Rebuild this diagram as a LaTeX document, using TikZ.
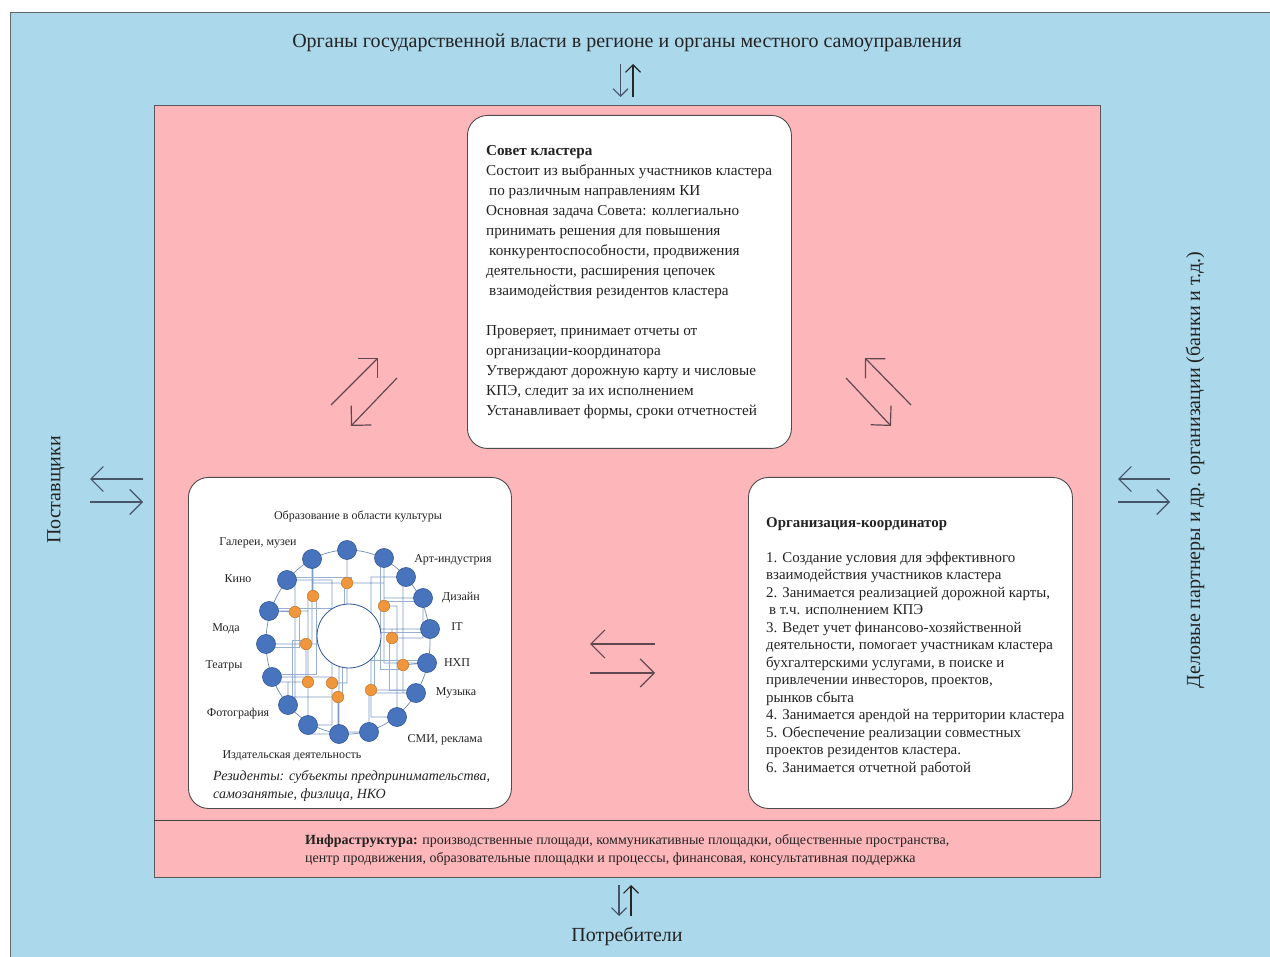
\documentclass[tikz,border=0pt]{standalone}
\usepackage{fontspec}
\setmainfont{Liberation Serif}
\usetikzlibrary{arrows.meta}
\definecolor{bgblue}{RGB}{172,216,236}
\definecolor{bgpink}{RGB}{253,183,187}
\definecolor{arrowc}{RGB}{95,72,80}
\definecolor{arrowb}{RGB}{70,86,104}
\definecolor{bluenode}{RGB}{72,116,190}
\definecolor{bluebord}{RGB}{47,85,151}
\definecolor{orangenode}{RGB}{240,150,60}
\definecolor{orangebord}{RGB}{200,120,40}
\definecolor{netline}{RGB}{125,155,196}
\definecolor{txt}{RGB}{35,35,35}
\tikzset{
  panel/.style={draw=black!70, fill=white, rounded corners=20pt, line width=0.9pt, inner sep=0pt},
  pinkarrow/.style={line width=1.2pt, draw=arrowc, -{Straight Barb[length=14pt,width=28pt,line width=1.2pt]}},
  sidearrow/.style={line width=1.1pt, draw=arrowb, -{Straight Barb[length=12.5pt,width=25pt,line width=1.1pt]}},
  vertarrow/.style={line width=1.1pt, draw=arrowb, -{Straight Barb[length=7.5pt,width=15pt,line width=1.1pt]}},
  bnode/.style={circle, fill=bluenode, draw=bluebord, line width=0.6pt, minimum size=19pt, inner sep=0pt},
  onode/.style={circle, fill=orangenode, draw=orangebord, line width=0.5pt, minimum size=11.5pt, inner sep=0pt},
  net/.style={draw=netline, line width=0.6pt},
  lab/.style={font=\fontsize{12}{14}\selectfont, text=txt, inner sep=0pt},
  body/.style={text=txt, inner sep=0pt, align=left, anchor=north west},
  big/.style={font=\fontsize{20}{24}\selectfont, text=txt, inner sep=0pt}
}
\begin{document}
\begin{tikzpicture}[x=1pt,y=-1pt]
\useasboundingbox (0,0) rectangle (1270,957);
\fill[white] (-10,-10) rectangle (1290,977);
% outer blue area
\coordinate (bgTL) at (10,12);
\coordinate (bgTR) at (1290,12);
\coordinate (bgBL) at (10,977);
\coordinate (bgBR) at (1290,977);
\fill[bgblue] (bgTL) rectangle (bgBR);
\draw[draw=black!60, line width=0.8pt] (bgBL) -- (bgTL) -- (bgTR);
% pink cluster area
\node[draw=black!65, fill=bgpink, line width=1pt, minimum width=946pt, minimum height=772pt, anchor=north west, inner sep=0pt] (cluster) at (154,105) {};
\coordinate (sepL) at (154,820);
\coordinate (sepR) at (1100,820);
\draw[draw=black!75, line width=1pt] (sepL) -- (sepR);

% outer labels
\node[big] (gov) at (627,43) {Органы государственной власти в регионе и органы местного самоуправления};
\node[big] (cons) at (627,936) {Потребители};
\node[big, rotate=90] (supp) at (56,490) {Поставщики};
\node[big, rotate=90] (partners) at (1195,470) {Деловые партнеры и др. организации (банки и т.д.)};

% panels
\node[panel, minimum width=324pt, minimum height=333pt, anchor=north west] (sovet) at (467,115) {};
\node[panel, minimum width=323pt, minimum height=331pt, anchor=north west] (resid) at (188,477) {};
\node[panel, minimum width=324pt, minimum height=331pt, anchor=north west] (coord) at (748,477) {};

% sovet text
\node[body, font=\fontsize{15.2}{20}\selectfont] (sovettext) at (486,145) {%
\textbf{Совет кластера}\\
Состоит из выбранных участников кластера\\
\hspace{3pt}по различным направлениям КИ\\
Основная задача Совета: коллегиально\\
принимать решения для повышения\\
\hspace{3pt}конкурентоспособности, продвижения\\
деятельности, расширения цепочек\\
\hspace{3pt}взаимодействия резидентов кластера\\[20pt]
Проверяет, принимает отчеты от\\
организации-координатора\\
Утверждают дорожную карту и числовые\\
КПЭ, следит за их исполнением\\
Устанавливает формы, сроки отчетностей};

% coordinator text
\node[body, font=\fontsize{14.9}{17.5}\selectfont] (coordtext) at (766,517) {%
\textbf{Организация-координатор}\\[17.5pt]
1. Создание условия для эффективного\\
взаимодействия участников кластера\\
2. Занимается реализацией дорожной карты,\\
\hspace{3pt}в т.ч. исполнением КПЭ\\
3. Ведет учет финансово-хозяйственной\\
деятельности, помогает участникам кластера\\
бухгалтерскими услугами, в поиске и\\
привлечении инвесторов, проектов,\\
рынков сбыта\\
4. Занимается арендой на территории кластера\\
5. Обеспечение реализации совместных\\
проектов резидентов кластера.\\
6. Занимается отчетной работой};

% infrastructure text
\node[body, font=\fontsize{14}{18}\selectfont] (infra) at (305,834) {%
\textbf{Инфраструктура:} производственные площади, коммуникативные площадки, общественные пространства,\\
центр продвижения, образовательные площадки и процессы, финансовая, консультативная поддержка};

% residents network
\foreach \n/\x/\y in {1/347/550, 2/312/559, 3/384/558, 4/287/580, 5/406/577, 6/269/611, 7/423/598, 8/266/644, 9/430/629, 10/272/677, 11/427/663, 12/288/705, 13/416/693, 14/308/725, 15/397/717, 16/339/734, 17/369/732}
  \coordinate (cb\n) at (\x,\y);
\foreach \n/\x/\y in {1/347/583, 2/313/596, 3/295/612, 4/384/606, 5/392/638, 6/306/644, 7/403/665, 8/308/682, 9/332/683, 10/338/697, 11/371/690}
  \coordinate (co\n) at (\x,\y);
\coordinate (ringc) at (348,642);
\draw[draw=netline!90!black, line width=0.7pt] (ringc) ellipse [x radius=82pt, y radius=92pt];
\draw[net] (co1) -- (co1 |- cb1) (co1) -| (cb2) (co1) -| (cb3)
  (co2) |- (cb4) (co2) -| (cb14) (co2) -- (co2 |- cb2)
  (co3) -- (cb6) (co3) |- (cb12) (co3) |- (cb4)
  (co4) |- (cb5) (co4) -- (co4 |- cb3) (co4) -| (cb15)
  (co5) |- (cb9) (co5) -| (cb7)
  (co6) -- (cb8) (co6) |- (cb10) (co6) -| (cb2)
  (co7) -- (cb11) (co7) |- (cb13) (co7) |- (cb5)
  (co8) -| (cb10) (co8) |- (cb16) (co8) -| (cb12)
  (co9) |- (cb14) (co9) |- (cb4) (co9) -| (cb1)
  (co10) |- (cb17) (co10) -| (cb12) (co10) -| (cb16)
  (co11) |- (cb15) (co11) -| (cb17) (co11) |- (cb9) (co11) -| (cb13)
  (cb6) -| (cb14) (cb8) -| (cb16) (cb13) -| (cb17) (cb7) -| (cb3)
  (cb4) -| (co3) (cb11) -| (co4) (cb10) -| (co9) (cb5) -| (co11);
\draw[net, draw=netline!80] ([xshift=4pt]co1) |- ([yshift=3pt]cb4) ([xshift=-4pt]co4) |- ([yshift=-3pt]cb7)
  ([yshift=4pt]co6) -| ([xshift=4pt]cb12) ([yshift=-4pt]co7) -| ([xshift=-4pt]cb3)
  ([xshift=3pt]co2) |- ([yshift=3pt]cb10) ([xshift=-3pt]co5) |- ([yshift=3pt]cb13)
  ([yshift=3pt]cb6) -| ([xshift=-3pt]co1) ([yshift=-3pt]cb9) -| ([xshift=3pt]co11)
  ([yshift=-3pt]cb8) -| ([xshift=4pt]co3) ([yshift=3pt]cb11) -| ([xshift=4pt]co10);
\node[circle, draw=bluebord, fill=white, line width=0.8pt, minimum size=64pt, inner sep=0pt] (hub) at (349,636) {};
\foreach \n in {1,...,17} \node[bnode] (b\n) at (cb\n) {};
\foreach \n in {1,...,11} \node[onode] (o\n) at (co\n) {};

% residents labels
\node[lab] (l1) at (358,517) {Образование в области культуры};
\node[lab] (l2) at (258,543) {Галереи, музеи};
\node[lab] (l3) at (453,560) {Арт-индустрия};
\node[lab] (l4) at (238,579) {Кино};
\node[lab] (l5) at (461,598) {Дизайн};
\node[lab] (l6) at (226,629) {Мода};
\node[lab] (l7) at (457,627) {IT};
\node[lab] (l8) at (224,666) {Театры};
\node[lab] (l9) at (457,663) {НХП};
\node[lab] (l10) at (456,693) {Музыка};
\node[lab] (l11) at (238,714) {Фотография};
\node[lab] (l12) at (445,740) {СМИ, реклама};
\node[lab] (l13) at (292,756) {Издательская деятельность};
\node[body, font=\fontsize{14}{18}\itshape\selectfont] (residtxt) at (213,770) {Резиденты: субъекты предпринимательства,\\самозанятые, физлица, НКО};

% arrow endpoints
\coordinate (t1a) at (620.5,64); \coordinate (t1b) at (620.5,97);
\coordinate (t2a) at (633,97); \coordinate (t2b) at (633,64);
\coordinate (u1a) at (619,885); \coordinate (u1b) at (619,916);
\coordinate (u2a) at (631,916); \coordinate (u2b) at (631,885);
\coordinate (s1a) at (143,479); \coordinate (s1b) at (90,479);
\coordinate (s2a) at (90,502); \coordinate (s2b) at (143,502);
\coordinate (r1a) at (1170,479); \coordinate (r1b) at (1118,479);
\coordinate (r2a) at (1118,502); \coordinate (r2b) at (1170,502);
\coordinate (m1a) at (655,644); \coordinate (m1b) at (590,644);
\coordinate (m2a) at (590,673); \coordinate (m2b) at (655,673);
\coordinate (d1a) at (331,405); \coordinate (d1b) at (378,358);
\coordinate (d2a) at (397,378); \coordinate (d2b) at (351,426);
\coordinate (e1a) at (911,405); \coordinate (e1b) at (865,358);
\coordinate (e2a) at (846,378); \coordinate (e2b) at (891,426);

\draw[vertarrow] (t1a) -- (t1b);
\draw[vertarrow, draw=black!85] (t2a) -- (t2b);
\draw[vertarrow] (u1a) -- (u1b);
\draw[vertarrow, draw=black!85] (u2a) -- (u2b);
\draw[sidearrow] (s1a) -- (s1b);
\draw[sidearrow] (s2a) -- (s2b);
\draw[sidearrow] (r1a) -- (r1b);
\draw[sidearrow] (r2a) -- (r2b);
\draw[pinkarrow] (m1a) -- (m1b);
\draw[pinkarrow] (m2a) -- (m2b);
\draw[pinkarrow] (d1a) -- (d1b);
\draw[pinkarrow] (d2a) -- (d2b);
\draw[pinkarrow] (e1a) -- (e1b);
\draw[pinkarrow] (e2a) -- (e2b);
\end{tikzpicture}
\end{document}
